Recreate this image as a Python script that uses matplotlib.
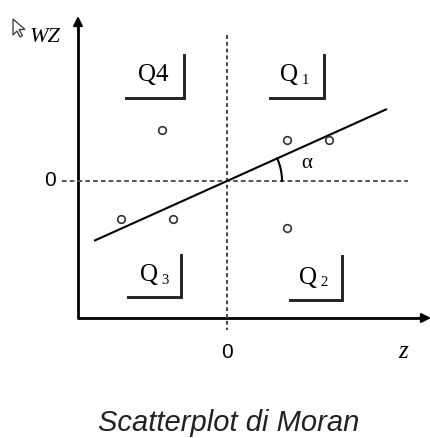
import numpy as np
import matplotlib
matplotlib.use("Agg")
import matplotlib.pyplot as plt
from matplotlib.patches import Polygon

# ---- data (z, Wz) ----
z_vals = [-1.30, 1.20, 2.04, -2.12, -1.08, 1.20]
wz_vals = [1.02, 0.82, 0.82, -0.76, -0.76, -0.94]
slope = 0.45
line_z = [-2.64, 3.18]
quadrant_names = ["Q4", "Q1", "Q3", "Q2"]
quadrant_subs = ["", "1", "3", "2"]
title = "Scatterplot di Moran"

W, H = 431, 438
fig = plt.figure(figsize=(W / 100, H / 100), dpi=100)
ax = fig.add_axes([0, 0, 1, 1])
ax.set_xlim(-4.54, 4.08)
ax.set_ylim(-5.14, 3.62)
ax.axis("off")

serif = "Liberation Serif"
sans = "Liberation Sans"

# axes origin
ox, oy = -2.98, -2.74
# y axis with arrow
ax.plot([ox, ox], [oy, 3.10], color="black", lw=2.0, solid_capstyle="butt")
ax.annotate("", xy=(ox, 3.30), xytext=(ox, 3.0),
            arrowprops=dict(arrowstyle="-|>", color="black", lw=1.5,
                            mutation_scale=14, shrinkA=0, shrinkB=0))
# x axis with arrow
ax.plot([ox - 0.02, 3.95], [oy, oy], color="black", lw=2.0, solid_capstyle="butt")
ax.annotate("", xy=(4.08, oy), xytext=(3.8, oy),
            arrowprops=dict(arrowstyle="-|>", color="black", lw=1.5,
                            mutation_scale=14, shrinkA=0, shrinkB=0))

# dashed reference lines
ax.plot([0, 0], [2.92, -2.98], color="#444444", lw=1.4, dashes=(2.0, 1.5))
ax.plot([-3.30, 3.62], [0, 0], color="#555555", lw=1.4, dashes=(2.4, 1.6))

# regression line
lz = np.array(line_z)
ax.plot(lz, slope * lz, color="black", lw=1.5)

# points
ax.scatter(z_vals, wz_vals, s=30, facecolors="white", edgecolors="#333333",
           linewidths=1.2, zorder=5)

# alpha arc
r = 1.10
th = np.linspace(0, np.arctan(slope), 20)
ax.plot(r * np.cos(th), r * np.sin(th), color="black", lw=1.5)
ax.text(1.60, 0.36, "α", fontsize=15, family=serif, ha="center", va="center")

# quadrant labels with brackets
q_pos = [(-1.48, 2.12), (1.32, 2.12), (-1.48, -1.88), (1.70, -1.94)]
br = [(-2.02, -0.86, 1.66, 2.52), (0.86, 1.94, 1.66, 2.52),
      (-1.98, -0.92, -2.32, -1.48), (1.26, 2.30, -2.38, -1.50)]
for (qx, qy), name, sub, (x0, x1, yb, yt) in zip(q_pos, quadrant_names, quadrant_subs, br):
    if sub:
        ax.text(qx - 0.08, qy, "Q", fontsize=18, family=serif, ha="center", va="center")
        ax.text(qx + 0.24, qy - 0.10, sub, fontsize=10.5, family=serif, ha="center", va="center")
    else:
        ax.text(qx, qy, name, fontsize=18, family=serif, ha="center", va="center")
    ax.plot([x0, x1, x1], [yb, yb, yt], color="#222222", lw=2.1,
            solid_joinstyle="miter")

# tick labels
ax.text(-3.54, 0, "0", fontsize=15, family=sans, ha="center", va="center")
ax.text(0, -3.44, "0", fontsize=15, family=sans, ha="center", va="center")
ax.text(3.52, -3.42, "z", fontsize=18, family=serif, style="italic", ha="center", va="center")
ax.text(-3.64, 2.88, "WZ", fontsize=16, family=serif, style="italic", ha="center", va="center")

# small cursor glyph beside WZ
cx, cy = -4.28, 3.24
cur = np.array([[0, 0], [0, -0.32], [0.08, -0.24], [0.14, -0.36], [0.19, -0.33],
                [0.12, -0.21], [0.24, -0.21]])
ax.add_patch(Polygon(cur + [cx, cy], closed=True, facecolor="white",
                     edgecolor="#444444", lw=1.0))

# title
ax.text(0.04, -4.84, title, fontsize=21, family=sans, style="italic",
        ha="center", va="center", color="#222222")

fig.savefig("out.png", dpi=100)
